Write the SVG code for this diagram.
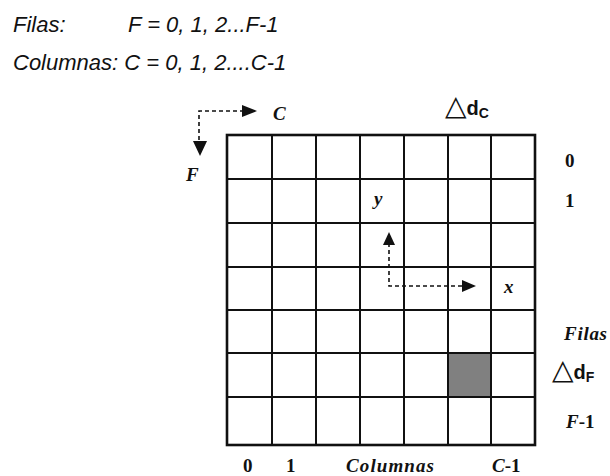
<svg xmlns="http://www.w3.org/2000/svg" width="610" height="476" viewBox="0 0 610 476">
<style>
.hdr{font-family:"Liberation Sans",Arial,sans-serif;font-style:italic;font-size:22px;fill:#111}
.lbl{font-family:"Liberation Serif","Times New Roman",serif;font-weight:bold;font-style:italic;font-size:19px;fill:#111}
.num{font-family:"Liberation Serif","Times New Roman",serif;font-weight:bold;font-size:19px;fill:#111}
.rom{font-style:normal}
.delta{font-family:"Liberation Sans",Arial,sans-serif;font-weight:bold;fill:#111}
.grid{stroke:#111;stroke-width:2;fill:none}
.dash{stroke:#111;stroke-width:1.6;stroke-dasharray:4 3;fill:none}
.head{fill:#111}
</style>
<g id="header">
<text class="hdr" x="13" y="32">Filas:</text>
<text class="hdr" x="128" y="32">F = 0, 1, 2...F-1</text>
<text class="hdr" x="13" y="70">Columnas: C = 0, 1, 2....C-1</text>
</g>
<g id="grid">
<rect x="448" y="353" width="43" height="44" fill="#808080"/>
<path class="grid" d="M272 135V445M316 135V445M360 135V445M404 135V445M448 135V445M491 135V445M227 179H535M227 223H535M227 267H535M227 310H535M227 353H535M227 397H535"/>
<rect x="227" y="135" width="308" height="310" fill="none" stroke="#111" stroke-width="2.6"/>
</g>
<g id="connectors">
<path class="dash" d="M244 111H199V142"/>
<polygon class="head" points="242,105 257,111 242,117"/>
<polygon class="head" points="193,141 207,141 200,156"/>
<path class="dash" d="M462 286H389V244"/>
<polygon class="head" points="462,280 476,286 462,292"/>
<polygon class="head" points="383,245 395,245 389,232"/>
</g>
<g id="axis-labels">
<text class="lbl" x="273" y="120">C</text>
<text class="lbl" x="186" y="181">F</text>
<text class="lbl" x="374" y="205">y</text>
<text class="lbl" x="504" y="293">x</text>
</g>
<g id="deltas">
<text class="delta" x="445" y="115"><tspan font-size="28" font-weight="normal" font-family="DejaVu Sans,sans-serif">△</tspan><tspan font-size="20">d</tspan><tspan font-size="14" dy="3">C</tspan></text>
<text class="delta" x="552" y="379"><tspan font-size="28" font-weight="normal" font-family="DejaVu Sans,sans-serif">△</tspan><tspan font-size="20">d</tspan><tspan font-size="14" dy="3">F</tspan></text>
</g>
<g id="row-labels">
<text class="num" x="565" y="167">0</text>
<text class="num" x="565" y="207">1</text>
<text class="lbl" x="564" y="340" textLength="43">Filas</text>
<text class="lbl" x="566" y="428">F<tspan class="rom">-1</tspan></text>
</g>
<g id="col-labels">
<text class="num" x="243" y="472">0</text>
<text class="num" x="286" y="472">1</text>
<text class="lbl" x="346" y="472" font-size="20" textLength="88">Columnas</text>
<text class="lbl" x="492" y="472">C<tspan class="rom">-1</tspan></text>
</g>
</svg>
